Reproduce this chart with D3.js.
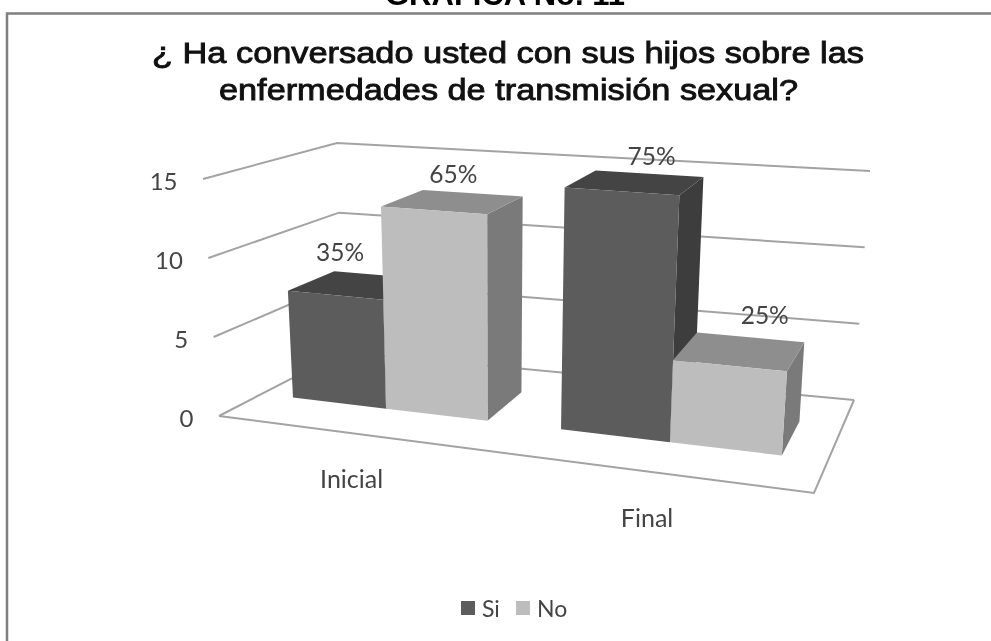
<!DOCTYPE html>
<html><head><meta charset="utf-8">
<script src="https://cdn.jsdelivr.net/npm/d3@7"></script>
<style>html,body{margin:0;padding:0;background:#fff;overflow:hidden}svg{display:block;filter:blur(0.45px)}</style>
</head><body>
<svg id="c" width="991" height="641"></svg>
<script>
const categories = ["Inicial", "Final"];
const seriesNames = ["Si", "No"];
const siValues = [7, 15];
const noValues = [13, 5];
const siLabels = ["35%", "75%"];
const noLabels = ["65%", "25%"];
const tickValues = [0, 5, 10, 15];

const svg = d3.select("#c");
const FONT = "Lato, 'Open Sans', sans-serif";

const box = {
  fl0:[219,416], fr0:[814,493], bl0:[343,352], br0:[854,400],
  fl1:[203,179], fr1:[833,225], bl1:[337,143], br1:[870,171]
};
const yNorm = d3.scaleLinear().domain([0,15]).range([0,1]);
const xWarp = d3.scalePow().exponent(1.11).domain([0,1]).range([0,1]);
const x0 = d3.scaleBand().domain(categories).range([0,1]).paddingInner(0.258).paddingOuter(0.15);
const x1 = d3.scaleBand().domain(seriesNames).range([0,x0.bandwidth()]);
const depth = d3.scaleLinear().domain([0,1]).range([0.345,0.72]);
const lerp = (a,b,t)=>[a[0]+(b[0]-a[0])*t, a[1]+(b[1]-a[1])*t];
function project(t,val,v){
  const u = xWarp(t), w = yNorm(val);
  const f = lerp(lerp(box.fl0,box.fr0,u), lerp(box.fl1,box.fr1,u), w);
  const b = lerp(lerp(box.bl0,box.br0,u), lerp(box.bl1,box.br1,u), w);
  return lerp(f,b,v);
}
const line = d3.line();
const GRID = "#a3a3a3";

svg.append("path").attr("d","M991,13.5H7V641").attr("fill","none").attr("stroke","#7f7f7f").attr("stroke-width",2.5);

svg.append("text").attr("x",505).attr("y",4.5).attr("text-anchor","middle")
  .attr("font-family","'Liberation Sans',sans-serif").attr("font-weight","bold").attr("font-size",31).attr("fill","#000")
  .text("GRAFICA No. 11");

const titleLines = ["¿ Ha conversado usted con sus hijos sobre las","enfermedades de transmisión sexual?"];
const titleStart = [152,219], titleWidth = [712,579];
svg.selectAll("text.title").data(titleLines).join("text").attr("class","title")
  .attr("x",(d,i)=>titleStart[i]).attr("y",(d,i)=>63+i*37)
  .attr("textLength",(d,i)=>titleWidth[i]).attr("lengthAdjust","spacingAndGlyphs")
  .attr("font-family","'Liberation Sans',sans-serif").attr("font-size",30)
  .attr("stroke","#111").attr("stroke-width",0.9).attr("fill","#111").text(d=>d);

svg.selectAll("path.grid").data(tickValues).join("path").attr("class","grid")
  .attr("d",d=>line([project(0,d,0),project(0,d,1),project(1,d,1)]))
  .attr("fill","none").attr("stroke",GRID).attr("stroke-width",2);
svg.append("path").attr("d",line([project(0,0,0),project(1,0,0),project(1,0,1)]))
  .attr("fill","none").attr("stroke",GRID).attr("stroke-width",2);

svg.selectAll("text.tick").data(tickValues).join("text").attr("class","tick")
  .attr("x",d=>project(0,d,0)[0]-25.5).attr("y",d=>project(0,d,0)[1]+10.5).attr("text-anchor","end")
  .attr("font-family",FONT).attr("font-size",24).attr("fill","#444").text(d=>d);

const colors = {Si:{front:"#5c5c5c",top:"#444444",side:"#3d3d3d"},No:{front:"#bdbdbd",top:"#8e8e8e",side:"#7a7a7a"}};
const bars = [];
categories.forEach((c,i)=>{
  bars.push({c,s:"Si",v:siValues[i],label:siLabels[i]});
  bars.push({c,s:"No",v:noValues[i],label:noLabels[i]});
});
const bw = x1.bandwidth();
const tL = d=>x0(d.c)+x1(d.s), tR = d=>tL(d)+bw;
const g = svg.selectAll("g.bar").data(bars).join("g").attr("class","bar");
g.append("path").attr("fill",d=>colors[d.s].side)
  .attr("d",d=>line([project(tR(d),0,depth(0)),project(tR(d),0,depth(1)),project(tR(d),d.v,depth(1)),project(tR(d),d.v,depth(0))])+"Z");
g.append("path").attr("fill",d=>colors[d.s].top)
  .attr("d",d=>line([project(tL(d),d.v,depth(0)),project(tL(d),d.v,depth(1)),project(tR(d),d.v,depth(1)),project(tR(d),d.v,depth(0))])+"Z");
g.append("path").attr("fill",d=>colors[d.s].front)
  .attr("d",d=>line([project(tL(d),0,depth(0)),project(tR(d),0,depth(0)),project(tR(d),d.v,depth(0)),project(tL(d),d.v,depth(0))])+"Z");

const labelNudge = [[6,-34],[20,-27],[30,-26],[35,-42]];
svg.selectAll("text.dl").data(bars).join("text").attr("class","dl")
  .attr("x",(d,i)=>project(tL(d)+bw/2,d.v,depth(0))[0]+labelNudge[i][0])
  .attr("y",(d,i)=>project(tL(d)+bw/2,d.v,depth(0))[1]+labelNudge[i][1])
  .attr("text-anchor","middle").attr("font-family",FONT).attr("font-size",24.5).attr("fill","#444").text(d=>d.label);

const catNudge = [2,-1];
svg.selectAll("text.cat").data(categories).join("text").attr("class","cat")
  .attr("x",(d,i)=>project(x0(d)+x0.bandwidth()/2,0,0)[0]+catNudge[i])
  .attr("y",d=>project(x0(d)+x0.bandwidth()/2,0,0)[1]+55)
  .attr("text-anchor","middle").attr("font-family",FONT).attr("font-size",25).attr("fill","#444").text(d=>d);

const legX = d3.scaleOrdinal().domain(seriesNames).range([461,516]);
const lg = svg.selectAll("g.leg").data(seriesNames).join("g").attr("class","leg");
lg.append("rect").attr("x",d=>legX(d)).attr("y",601).attr("width",14).attr("height",14).attr("fill",d=>colors[d].front);
lg.append("text").attr("x",d=>legX(d)+21).attr("y",617).attr("font-family",FONT).attr("font-size",23).attr("fill","#444").text(d=>d);
</script>
</body></html>
